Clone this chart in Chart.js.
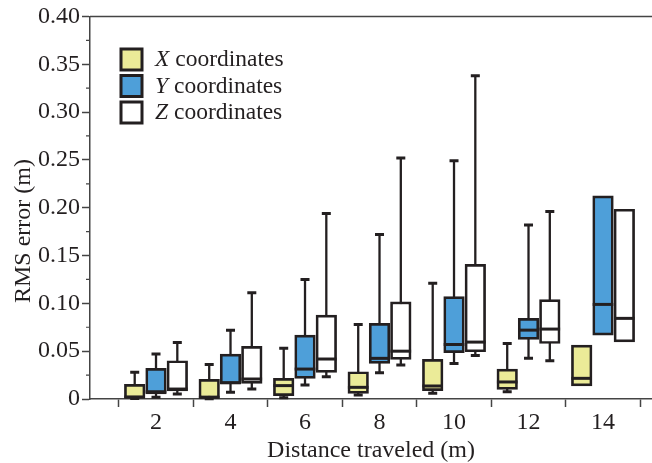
<!DOCTYPE html>
<html>
<head>
<meta charset="utf-8">
<script src="https://cdn.jsdelivr.net/npm/chart.js@4/dist/chart.umd.min.js"></script>
<style>
  body { margin: 0; background: #fff; }
  #wrap { width: 652px; height: 463px; position: relative; }
</style>
</head>
<body>
<div id="wrap"><canvas id="rmsChart"></canvas></div>
<script>
// distance traveled (m)
const categories = [2, 4, 6, 8, 10, 12, 14];

// X coordinates
const xMin = [0.0005, 0.0003, 0.0014, 0.0042, 0.006, 0.0076, 0.0136];
const xQ1 = [0.001, 0.0008, 0.0035, 0.0059, 0.0087, 0.010, 0.0136];
const xMed = [0.002, 0.0018, 0.014, 0.0122, 0.0136, 0.0178, 0.0216];
const xQ3 = [0.0154, 0.0206, 0.0216, 0.0285, 0.0414, 0.0313, 0.0564];
const xMax = [0.0279, 0.036, 0.053, 0.078, 0.121, 0.058, 0.0564];

// Y coordinates
const yMin = [0.0018, 0.007, 0.0146, 0.0275, 0.037, 0.0425, 0.0668];
const yQ1 = [0.0052, 0.0157, 0.0216, 0.0373, 0.0484, 0.0623, 0.0668];
const yMed = [0.0076, 0.017, 0.0313, 0.0425, 0.057, 0.072, 0.0989];
const yQ3 = [0.032, 0.047, 0.0668, 0.079, 0.107, 0.0843, 0.2123];
const yMax = [0.047, 0.072, 0.125, 0.172, 0.249, 0.182, 0.2123];

// Z coordinates
const zMin = [0.0052, 0.0104, 0.0233, 0.0355, 0.0456, 0.040, 0.0598];
const zQ1 = [0.0084, 0.0164, 0.0279, 0.0414, 0.0494, 0.058, 0.0598];
const zMed = [0.0104, 0.0209, 0.0418, 0.050, 0.0595, 0.0731, 0.0843];
const zQ3 = [0.040, 0.055, 0.0877, 0.1016, 0.1407, 0.104, 0.1984];
const zMax = [0.059, 0.111, 0.194, 0.252, 0.338, 0.196, 0.1984];

const yTickLabels = ['0', '0.05', '0.10', '0.15', '0.20', '0.25', '0.30', '0.35', '0.40'];
const xTickValues = [1, 2, 3, 4, 5, 6, 7, 8, 9, 10, 11, 12, 13, 14, 15];

const DARK = '#231f20';
const AXIS = '#444';
const FONT = "'Liberation Serif', 'DejaVu Serif', serif";

const series = [
    { letter: 'X', color: '#ebeb98', min: xMin, q1: xQ1, med: xMed, q3: xQ3, max: xMax },
    { letter: 'Y', color: '#4e9fd9', min: yMin, q1: yQ1, med: yMed, q3: yQ3, max: yMax },
    { letter: 'Z', color: '#ffffff', min: zMin, q1: zQ1, med: zMed, q3: zQ3, max: zMax },
];

// whiskers, medians, legend and the bits Chart.js has no option for
const boxPlugin = {
    id: 'boxWhiskers',
    beforeDatasetsDraw(chart) {
        const ctx = chart.ctx;
        const yScale = chart.scales.y;
        ctx.save();
        ctx.strokeStyle = DARK;
        series.forEach((s, si) => {
            const meta = chart.getDatasetMeta(si);
            meta.data.forEach((bar, i) => {
                if (s.max[i] <= s.q3[i] && s.min[i] >= s.q1[i]) return;
                const yTop = yScale.getPixelForValue(s.max[i]);
                const yBot = yScale.getPixelForValue(s.min[i]);
                ctx.lineWidth = 2.3;
                ctx.beginPath();
                ctx.moveTo(bar.x, yTop);
                ctx.lineTo(bar.x, yBot);
                ctx.stroke();
                ctx.lineWidth = 3;
                ctx.beginPath();
                ctx.moveTo(bar.x - 4.5, yTop);
                ctx.lineTo(bar.x + 4.5, yTop);
                ctx.moveTo(bar.x - 4.5, yBot);
                ctx.lineTo(bar.x + 4.5, yBot);
                ctx.stroke();
            });
        });
        ctx.restore();
    },
    afterDatasetsDraw(chart) {
        const ctx = chart.ctx;
        const yScale = chart.scales.y;
        ctx.save();
        ctx.strokeStyle = DARK;
        ctx.lineWidth = 3;
        series.forEach((s, si) => {
            const meta = chart.getDatasetMeta(si);
            meta.data.forEach((bar, i) => {
                const y = yScale.getPixelForValue(s.med[i]);
                ctx.beginPath();
                ctx.moveTo(bar.x - bar.width / 2, y);
                ctx.lineTo(bar.x + bar.width / 2, y);
                ctx.stroke();
            });
        });
        ctx.restore();
    },
    afterDraw(chart) {
        const ctx = chart.ctx;
        const area = chart.chartArea;
        const yScale = chart.scales.y;
        ctx.save();

        // top frame line
        ctx.strokeStyle = AXIS;
        ctx.lineWidth = 1.5;
        ctx.beginPath();
        ctx.moveTo(area.left, area.top);
        ctx.lineTo(area.right, area.top);
        ctx.stroke();

        // minor ticks on y
        ctx.lineWidth = 1.2;
        ctx.beginPath();
        for (let k = 0; k < 8; k++) {
            const y = yScale.getPixelForValue(0.025 + 0.05 * k);
            ctx.moveTo(area.left - 4, y);
            ctx.lineTo(area.left, y);
        }
        ctx.stroke();

        // y title
        ctx.fillStyle = DARK;
        ctx.font = '24px ' + FONT;
        ctx.textAlign = 'center';
        ctx.textBaseline = 'middle';
        ctx.translate(24, 231);
        ctx.rotate(-Math.PI / 2);
        ctx.fillText('RMS error (m)', 0, 0);
        ctx.setTransform(1, 0, 0, 1, 0, 0);

        // legend
        const lx = 121, ly = 49, row = 26.5;
        ctx.textAlign = 'left';
        series.forEach((s, si) => {
            const y = ly + row * si;
            ctx.fillStyle = s.color;
            ctx.fillRect(lx, y, 21, 21);
            ctx.strokeStyle = DARK;
            ctx.lineWidth = 3;
            ctx.strokeRect(lx, y, 21, 21);
            ctx.fillStyle = DARK;
            ctx.font = 'italic 23.5px ' + FONT;
            ctx.fillText(s.letter, 155, y + 11);
            const w = ctx.measureText(s.letter).width;
            ctx.font = '23.5px ' + FONT;
            ctx.fillText(' coordinates', 155 + w, y + 11);
        });
        ctx.restore();
    },
};

const ctx = document.getElementById('rmsChart');
new Chart(ctx, {
    type: 'bar',
    data: {
        datasets: series.map((s) => ({
            label: s.letter + ' coordinates',
            data: categories.map((c, i) => ({ x: c, y: [s.q1[i], s.q3[i]] })),
            backgroundColor: s.color,
            borderColor: DARK,
            borderWidth: 2.7,
            borderSkipped: false,
            barThickness: 21.3,
            maxBarThickness: 20.6,
        })),
    },
    options: {
        responsive: true,
        maintainAspectRatio: false,
        animation: false,
        layout: { padding: { top: 16, left: 0, right: 0, bottom: 0 } },
        plugins: {
            legend: { display: false },
            tooltip: { enabled: false },
        },
        scales: {
            x: {
                type: 'linear',
                min: 0.228,
                max: 15.315,
                offset: false,
                afterBuildTicks: (scale) => {
                    scale.ticks = xTickValues.map((v) => ({ value: v }));
                },
                afterFit: (scale) => {
                    scale.height = 64;
                },
                ticks: {
                    autoSkip: false,
                    maxRotation: 0,
                    padding: 1,
                    color: DARK,
                    font: { family: FONT, size: 24 },
                    callback: (v) => (v % 2 === 0 ? String(v) : ''),
                },
                grid: {
                    offset: false,
                    drawOnChartArea: false,
                    drawTicks: true,
                    tickLength: 8,
                    tickWidth: 1.5,
                    tickColor: (c) => (c.tick && c.tick.value % 2 === 1 ? AXIS : 'rgba(0,0,0,0)'),
                },
                border: { color: AXIS, width: 1.5 },
                title: {
                    display: true,
                    text: 'Distance traveled (m)',
                    color: DARK,
                    font: { family: FONT, size: 24, lineHeight: 1 },
                    padding: { top: 0, bottom: 0 },
                },
            },
            y: {
                min: 0,
                max: 0.4,
                afterFit: (scale) => {
                    scale.width = 90;
                },
                ticks: {
                    stepSize: 0.05,
                    padding: 2,
                    color: DARK,
                    font: { family: FONT, size: 24 },
                    callback: (v) => yTickLabels[Math.round(v / 0.05)],
                },
                grid: {
                    drawOnChartArea: false,
                    drawTicks: true,
                    tickLength: 8,
                    tickWidth: 1.5,
                    tickColor: AXIS,
                },
                border: { color: AXIS, width: 1.5 },
            },
        },
    },
    plugins: [boxPlugin],
});
</script>
</body>
</html>
